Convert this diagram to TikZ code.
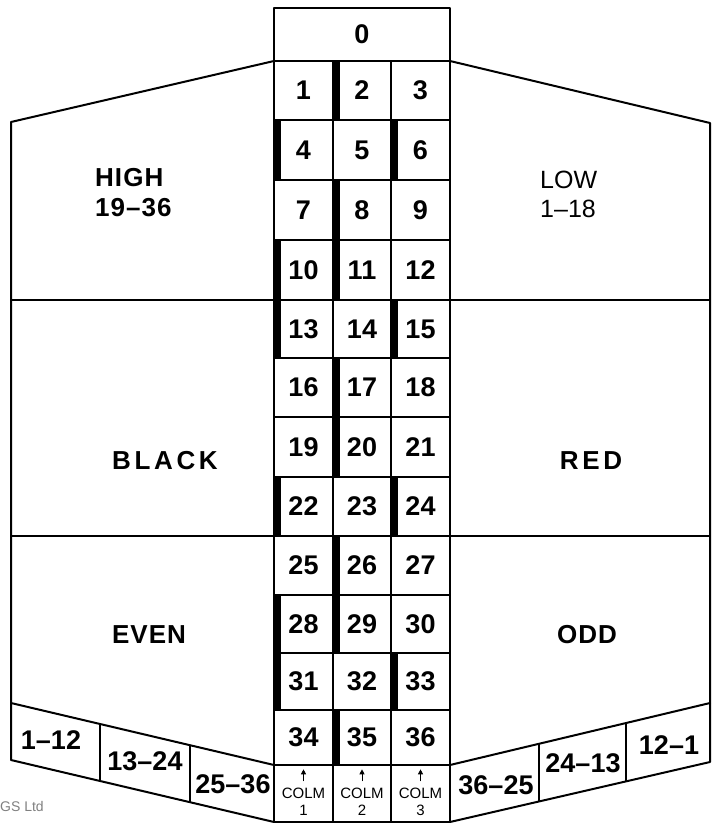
\documentclass[tikz,border=0pt]{standalone}
\usepackage{fontspec}
\setmainfont{Liberation Sans}
\usetikzlibrary{arrows.meta,calc}
\newcommand\numfnt{\fontsize{27}{27}\selectfont\bfseries}
\newcommand\lblfnt{\fontsize{26}{30}\selectfont\bfseries\addfontfeature{LetterSpace=4}}
\newcommand\widefnt{\fontsize{26}{30}\selectfont\bfseries\addfontfeature{LetterSpace=14}}
\newcommand\colfnt{\fontsize{15}{15}\selectfont}
\begin{document}
\begin{tikzpicture}[x=1pt,y=-1pt,line join=round]
\tikzset{
  frame/.style={line width=2pt},
  cell/.style={draw,line width=1.4pt,inner sep=0pt,font=\numfnt},
  blackbar/.style={fill=black},
  lbl/.style={inner sep=0pt,font=\lblfnt,align=left},
  wide/.style={inner sep=0pt,font=\widefnt},
  doz/.style={inner sep=0pt,font=\numfnt},
  colm/.style={inner sep=0pt,font=\colfnt},
  colarrow/.style={line width=0.9pt,-{Triangle[length=5pt,width=5pt]}},
}
\useasboundingbox (0,0) rectangle (712,824);
% side regions
\draw[frame] (274,61) -- (11,122) -- (11,703) -- (274,765);
\draw[frame] (450,61) -- (710,123) -- (710,703) -- (450,765);
\draw[frame] (11,300) -- (274,300);
\draw[frame] (11,536) -- (274,536);
\draw[frame] (450,300) -- (710,300);
\draw[frame] (450,536) -- (710,536);
% dozen strips
\draw[frame] (11,703) -- (11,760) -- (274,822);
\draw[frame] (710,703) -- (710,762) -- (450,822);
\draw[line width=1.4pt] (100,724) -- (100,781);
\draw[line width=1.4pt] (190,745) -- (190,802);
\draw[line width=1.4pt] (539,744) -- (539,801);
\draw[line width=1.4pt] (626,723) -- (626,781);
% zero
\node[cell,minimum width=176pt,minimum height=53pt] (z) at (362,34.5) {0};
% numbers
\foreach \r/\yt/\yb in {0/61/120,1/120/180,2/180/240,3/240/300,4/300/358,5/358/417,6/417/477,7/477/536,8/536/595,9/595/653,10/653/710,11/710/765}{
  \foreach \c/\xl/\xr in {0/274/333,1/333/391,2/391/450}{
    \pgfmathtruncatemacro\n{3*\r+\c+1}
    \pgfmathsetmacro\h{\yb-\yt}
    \pgfmathsetmacro\w{\xr-\xl}
    \node[cell,minimum width=\w pt,minimum height=\h pt] (n\n) at ({(\xl+\xr)/2},{(\yt+\yb)/2}) {\n};
  }
}
\foreach \n in {2,4,6,8,10,11,13,15,17,20,22,24,26,28,29,31,33,35}{
  \fill[blackbar] (n\n.north west) rectangle ($(n\n.south west)+(8,0)$);
}
% column bets
\foreach \c/\xl/\xr in {1/274/333,2/333/391,3/391/450}{
  \pgfmathsetmacro\w{\xr-\xl}
  \node[cell,minimum width=\w pt,minimum height=57pt] (k\c) at ({(\xl+\xr)/2},793.5) {};
  \draw[colarrow] ($(k\c.north)+(0,17)$) -- ($(k\c.north)+(0,5)$);
  \node[colm] (kt\c) at ($(k\c.north)+(0,29)$) {COLM};
  \node[colm] (kn\c) at ($(k\c.north)+(0,46)$) {\c};
}
% labels
\node[lbl,anchor=west] (high) at (95,193) {HIGH\\19--36};
\node[lbl,anchor=west,font=\fontsize{25}{29}\selectfont] (low) at (540,194) {LOW\\1--18};
\node[wide] (black) at (165,461) {BLACK};
\node[wide] (red) at (591,461) {RED};
\node[lbl] (even) at (149,635) {EVEN};
\node[lbl] (odd) at (587,635) {ODD};
\node[doz] (d1) at (51,740) {1--12};
\node[doz] (d2) at (145,761) {13--24};
\node[doz] (d3) at (233,784) {25--36};
\node[doz] (d4) at (496,785) {36--25};
\node[doz] (d5) at (583,763) {24--13};
\node[doz] (d6) at (669,745) {12--1};
\node[inner sep=0pt,anchor=west,text=black!50,font=\fontsize{14}{14}\selectfont] (gs) at (0,806) {GS Ltd};
\end{tikzpicture}
\end{document}
